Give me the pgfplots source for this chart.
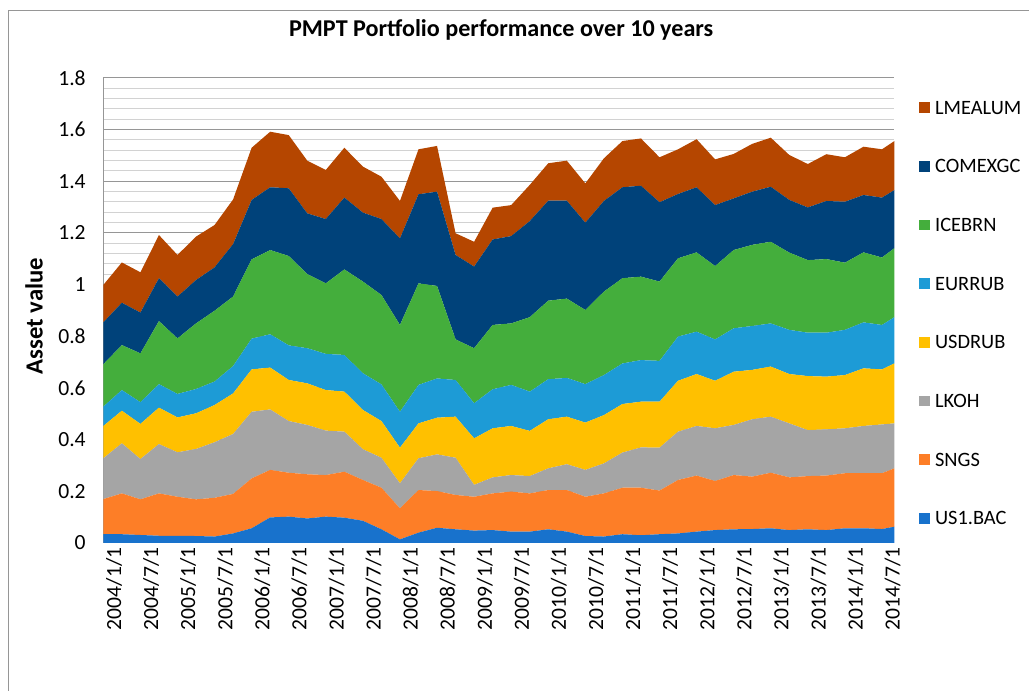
\documentclass[border=0pt]{standalone}
\usepackage{pgfplots}
\pgfplotsset{compat=1.18}
\usepackage{pgfplotstable}
\usepackage{fontspec}
\setmainfont{Carlito}

\definecolor{cBAC}{RGB}{24,114,204}
\definecolor{cSNGS}{RGB}{253,126,39}
\definecolor{cLKOH}{RGB}{165,165,165}
\definecolor{cUSD}{RGB}{255,192,0}
\definecolor{cEUR}{RGB}{29,155,214}
\definecolor{cICE}{RGB}{68,174,60}
\definecolor{cCOMEX}{RGB}{0,66,122}
\definecolor{cLME}{RGB}{181,70,0}
\definecolor{gridmaj}{RGB}{150,150,150}
\definecolor{gridmin}{RGB}{210,210,210}

% quarterly values, x in months after 2004/1/1
\pgfplotstableread{
x   bac  sngs lkoh usd  eur  ice  comex lme
0   .034 .136 .158 .125 .075 .164 .162 .145
3   .034 .158 .194 .126 .080 .174 .164 .156
6   .031 .138 .156 .136 .084 .189 .158 .156
9   .028 .164 .191 .141 .091 .244 .166 .167
12  .028 .151 .172 .135 .091 .215 .162 .161
15  .027 .142 .195 .138 .094 .254 .168 .168
18  .025 .150 .215 .144 .091 .274 .168 .164
21  .037 .153 .232 .157 .106 .269 .203 .173
24  .057 .193 .258 .164 .119 .307 .230 .202
27  .099 .184 .234 .162 .129 .326 .243 .215
30  .102 .170 .200 .159 .134 .346 .262 .206
33  .095 .171 .191 .161 .136 .287 .235 .204
36  .102 .161 .172 .157 .140 .273 .249 .190
39  .098 .178 .155 .155 .142 .331 .278 .193
42  .086 .158 .119 .152 .142 .355 .267 .178
45  .053 .161 .116 .142 .142 .346 .294 .164
48  .014 .120 .097 .138 .139 .336 .335 .145
51  .040 .165 .123 .135 .149 .393 .345 .174
54  .059 .142 .142 .142 .152 .358 .365 .177
57  .053 .133 .144 .159 .142 .157 .327 .084
60  .048 .131 .046 .180 .136 .213 .316 .096
63  .050 .142 .062 .190 .151 .249 .331 .123
66  .044 .155 .064 .190 .159 .238 .338 .120
69  .044 .148 .067 .175 .152 .288 .372 .140
72  .053 .152 .084 .190 .155 .304 .387 .145
75  .044 .161 .100 .184 .150 .307 .379 .155
78  .027 .152 .104 .183 .149 .287 .338 .152
81  .025 .167 .116 .187 .155 .323 .351 .165
84  .034 .180 .136 .188 .157 .330 .352 .179
87  .030 .184 .156 .177 .161 .323 .352 .183
90  .034 .169 .166 .178 .158 .307 .307 .174
93  .037 .207 .187 .197 .171 .303 .249 .173
96  .044 .217 .192 .201 .164 .307 .252 .186
99  .050 .190 .204 .184 .160 .284 .236 .177
102 .053 .210 .194 .206 .168 .303 .200 .172
105 .054 .203 .222 .191 .170 .314 .206 .185
108 .057 .215 .217 .194 .167 .316 .213 .190
111 .050 .204 .209 .191 .171 .299 .204 .174
114 .053 .206 .178 .209 .168 .281 .204 .168
117 .050 .211 .179 .204 .170 .285 .225 .181
120 .057 .213 .174 .206 .175 .260 .236 .172
123 .057 .213 .183 .223 .178 .271 .222 .187
126 .054 .216 .189 .213 .172 .261 .232 .187
128 .063 .226 .174 .232 .179 .267 .225 .190
}\pmpt

\begin{document}
\begin{tikzpicture}
\useasboundingbox (0,0) rectangle (771.75pt,-518.25pt);
\draw[gridmaj,line width=0.75pt] (6pt,-518.25pt) -- (6pt,-8.25pt) -- (771.75pt,-8.25pt);
\begin{axis}[
  at={(77.5pt,-407.25pt)},anchor=south west,
  scale only axis,width=593.25pt,height=348.75pt,
  stack plots=y,area style,
  axis on top=false,
  xmin=0,xmax=128,ymin=0,ymax=1.8,
  axis x line*=bottom,axis y line*=left,
  axis line style={gridmaj,line width=0.75pt},
  major tick length=0pt,minor tick length=0pt,
  xtick={0,6,...,126},
  xticklabels={2004/1/1,2004/7/1,2005/1/1,2005/7/1,2006/1/1,2006/7/1,2007/1/1,2007/7/1,
    2008/1/1,2008/7/1,2009/1/1,2009/7/1,2010/1/1,2010/7/1,2011/1/1,2011/7/1,
    2012/1/1,2012/7/1,2013/1/1,2013/7/1,2014/1/1,2014/7/1},
  x tick label style={rotate=90,anchor=east,yshift=-8pt},
  ytick={0,0.2,...,1.8},
  minor y tick num=4,
  y tick label style={xshift=-9.7pt},
  /pgf/number format/assume math mode=true,
  tick label style={font=\fontsize{16.2}{19}\selectfont,black},
  ymajorgrids,yminorgrids,
  major grid style={gridmaj,line width=0.75pt},
  minor grid style={gridmin,line width=0.75pt},
  title={PMPT Portfolio performance over 10 years},
  title style={at={(axis description cs:0.503,1.086)},anchor=center,
    font=\fontsize{18.1}{21}\selectfont\bfseries},
  ylabel={Asset value},
  ylabel style={at={(axis description cs:-0.0876,0.488)},anchor=center,
    font=\fontsize{18.5}{21}\selectfont\bfseries},
  reverse legend,
  legend cell align=left,
  legend image code/.code={\fill[#1] (0pt,-4.1pt) rectangle (8.25pt,4.1pt);},
  legend style={at={(axis description cs:1.031,0.951)},anchor=north west,
    draw=none,fill=none,inner sep=0pt,row sep=34.1pt,column sep=3.75pt,
    font=\fontsize{15.3}{18}\selectfont,
    nodes={inner sep=0pt,text height=9.9pt,text depth=0pt}},
]
\addplot[fill=cBAC,draw=none] table[x=x,y=bac] {\pmpt} \closedcycle;
\addplot[fill=cSNGS,draw=none] table[x=x,y=sngs] {\pmpt} \closedcycle;
\addplot[fill=cLKOH,draw=none] table[x=x,y=lkoh] {\pmpt} \closedcycle;
\addplot[fill=cUSD,draw=none] table[x=x,y=usd] {\pmpt} \closedcycle;
\addplot[fill=cEUR,draw=none] table[x=x,y=eur] {\pmpt} \closedcycle;
\addplot[fill=cICE,draw=none] table[x=x,y=ice] {\pmpt} \closedcycle;
\addplot[fill=cCOMEX,draw=none] table[x=x,y=comex] {\pmpt} \closedcycle;
\addplot[fill=cLME,draw=none] table[x=x,y=lme] {\pmpt} \closedcycle;
\legend{US1.BAC,SNGS,LKOH,USDRUB,EURRUB,ICEBRN,COMEXGC,LMEALUM}
\end{axis}
\end{tikzpicture}
\end{document}
